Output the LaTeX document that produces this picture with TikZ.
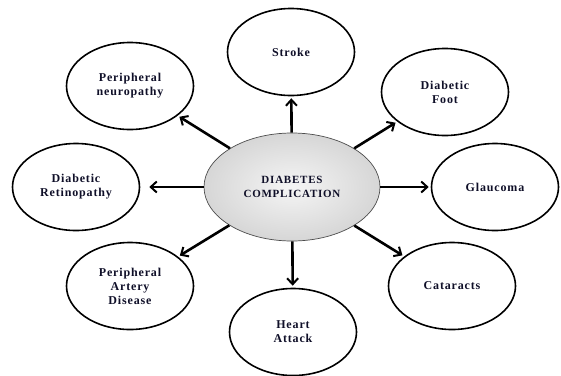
\documentclass[tikz,border=0pt]{standalone}
\usepackage{fontspec}
\setmainfont{Liberation Serif}[LetterSpace=7]
\usetikzlibrary{shapes.geometric, arrows.meta}

\definecolor{inkblue}{RGB}{15,15,40}

\tikzset{
  compl/.style={ellipse, draw=black, line width=1.6pt, inner sep=0pt,
    minimum width=127pt, minimum height=87pt, align=center,
    font=\fontsize{12}{14}\selectfont\bfseries, text=inkblue},
  hub/.style={ellipse, draw=black!70, line width=0.7pt, inner sep=0pt,
    minimum width=176pt, minimum height=108pt, align=center,
    shading=radial, inner color=gray!8, outer color=gray!32,
    font=\fontsize{11}{14}\selectfont\bfseries, text=inkblue},
  arr/.style={-{Straight Barb[length=6pt,width=11pt,line width=2pt]},
    line width=2.6pt, black, shorten >=2pt}
}

\begin{document}
\begin{tikzpicture}[x=1pt,y=-1pt]
  \useasboundingbox (0,0) rectangle (561,375);

  \node[hub] (DC) at (292,187) {DIABETES\\COMPLICATION};

  \node[compl] (Stroke) at (291,52) {Stroke};
  \node[compl] (Foot) at (445,92) {Diabetic\\Foot};
  \node[compl] (Glau) at (495,187) {Glaucoma};
  \node[compl] (Cata) at (452,286) {Cataracts};
  \node[compl] (Heart) at (293,332) {Heart\\Attack};
  \node[compl] (PAD) at (130,286) {Peripheral\\Artery\\Disease};
  \node[compl] (Retino) at (76,187) {Diabetic\\Retinopathy};
  \node[compl] (Neuro) at (130,86) {Peripheral\\neuropathy};

  \draw[arr] (DC) -- (Stroke);
  \draw[arr] (DC) -- (Foot);
  \draw[arr] (DC) -- (Glau);
  \draw[arr] (DC) -- (Cata);
  \draw[arr] (DC) -- (Heart);
  \draw[arr] (DC) -- (PAD);
  \draw[arr,shorten >=9pt] (DC) -- (Retino);
  \draw[arr] (DC) -- (Neuro);
\end{tikzpicture}
\end{document}
